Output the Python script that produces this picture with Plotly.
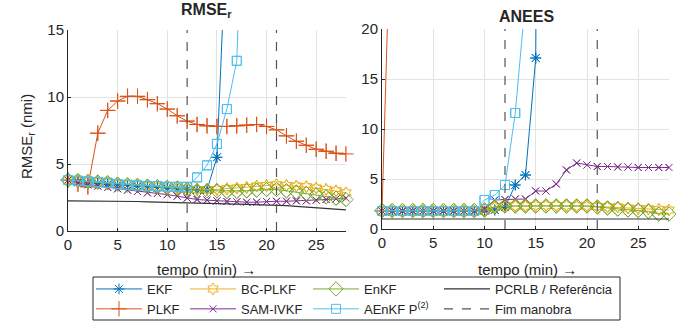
import plotly.graph_objects as go

W, H = 690, 325
t = list(range(29))

# RMSE_r (nmi)
ekf_r = [3.8, 3.7, 3.6, 3.55, 3.5, 3.45, 3.4, 3.35, 3.3, 3.25, 3.2, 3.15, 3.1, 3.05, 3.05, 5.5, 23]
plkf_r = [3.8, 3.5, 3.3, 7.3, 9.0, 9.7, 10.05, 10.05, 9.8, 9.5, 9.1, 8.6, 8.2, 7.95, 7.85, 7.8, 7.8,
          7.85, 7.9, 7.95, 7.8, 7.55, 7.1, 6.7, 6.4, 6.1, 5.95, 5.8, 5.75]
bcplkf_r = [3.8, 3.75, 3.7, 3.65, 3.6, 3.5, 3.45, 3.4, 3.35, 3.3, 3.25, 3.2, 3.15, 3.1, 3.1, 3.1, 3.15,
            3.2, 3.25, 3.35, 3.4, 3.45, 3.4, 3.35, 3.3, 3.2, 3.1, 3.0, 2.85]
samivkf_r = [3.8, 3.6, 3.45, 3.35, 3.25, 3.15, 3.05, 2.95, 2.85, 2.8, 2.72, 2.6, 2.45, 2.35, 2.3, 2.25,
             2.2, 2.18, 2.15, 2.15, 2.2, 2.22, 2.22, 2.25, 2.25, 2.3, 2.35, 2.4, 2.45]
enkf_r = [3.8, 3.75, 3.7, 3.65, 3.6, 3.5, 3.45, 3.4, 3.35, 3.3, 3.25, 3.2, 3.1, 3.0, 3.0, 3.0, 2.95,
          2.95, 3.0, 3.05, 3.1, 3.1, 3.0, 2.9, 2.8, 2.7, 2.55, 2.45, 2.35]
aenkf_r = [3.8, 3.75, 3.7, 3.65, 3.6, 3.5, 3.45, 3.4, 3.35, 3.35, 3.3, 3.3, 3.3, 4.0, 4.9, 6.5, 9.1, 12.7, 34]
pcrlb_r = [2.25, 2.25, 2.24, 2.24, 2.23, 2.22, 2.21, 2.2, 2.18, 2.16, 2.14, 2.12, 2.1, 2.08, 2.06, 2.04,
           2.02, 2.0, 1.98, 1.97, 1.96, 1.95, 1.9, 1.84, 1.78, 1.72, 1.67, 1.62, 1.58]

# ANEES
ekf_a = [1.8] * 11 + [1.9, 2.2, 4.4, 5.4, 17.1, 200]
plkf_a = [1.8, 37]
bcplkf_a = [1.8] * 11 + [2.2, 2.3, 2.3, 2.3, 2.35, 2.35, 2.35, 2.35, 2.3, 2.3, 2.25, 2.2, 2.2, 2.1,
                         2.05, 2.0, 1.95, 1.9]
samivkf_a = [1.8] * 10 + [2.0, 2.9, 2.95, 3.0, 3.0, 3.8, 3.8, 4.5, 5.9, 6.6, 6.4, 6.25, 6.25, 6.2,
                          6.2, 6.15, 6.15, 6.15, 6.15]
enkf_a = [1.85] * 10 + [1.9, 2.2, 2.3, 2.3, 2.3, 2.3, 2.3, 2.3, 2.3, 2.3, 2.3, 2.2, 2.1, 2.0, 1.9,
                        1.85, 1.75, 1.5, 1.5]
aenkf_a = [1.8] * 10 + [2.9, 3.4, 4.4, 11.6, 23]
pcrlb_a = [1.0] * 29

fim_manobra = [12, 21]
ylim_r = [0, 15]
ylim_a = [0, 20]
xlim = [0, 28]

series = [
    # name, rmse, anees, color, symbol, size, legend
    ("EKF", ekf_r, ekf_a, "#0072BD", "asterisk-open", 9, "legend"),
    ("PLKF", plkf_r, plkf_a, "#D95319", "cross-thin-open", 11, "legend"),
    ("BC-PLKF", bcplkf_r, bcplkf_a, "#EDB120", "hexagram-open", 9, "legend2"),
    ("SAM-IVKF", samivkf_r, samivkf_a, "#7E2F8E", "x-thin-open", 7, "legend2"),
    ("EnKF", enkf_r, enkf_a, "#77AC30", "diamond-open", 11, "legend3"),
    ("AEnKF P<sup>(2)</sup>", aenkf_r, aenkf_a, "#4DBEEE", "square-open", 9, "legend3"),
]

fig = go.Figure()

for name, yr, ya, col, sym, sz, lg in series:
    for k, (yy, ax, ylim) in enumerate([(yr, "", ylim_r), (ya, "2", ylim_a)]):
        xx = t[:len(yy)]
        mk = dict(symbol=sym, size=sz, color=col, line=dict(color=col, width=1))
        fig.add_trace(go.Scatter(
            x=xx, y=yy, mode="lines+markers", name=name,
            line=dict(color=col, width=1), marker=mk,
            xaxis="x" + ax, yaxis="y" + ax, legend=lg, showlegend=(k == 0)))
        # unclipped markers for the points inside the axis range
        xin = [x for x, y in zip(xx, yy) if ylim[0] <= y <= ylim[1]]
        yin = [y for y in yy if ylim[0] <= y <= ylim[1]]
        fig.add_trace(go.Scatter(
            x=xin, y=yin, mode="markers", marker=mk, cliponaxis=False,
            xaxis="x" + ax, yaxis="y" + ax, showlegend=False, hoverinfo="skip"))

# PCRLB
fig.add_trace(go.Scatter(x=t, y=pcrlb_r, mode="lines", name="PCRLB / Referência",
                         line=dict(color="#333333", width=1.2), legend="legend4"))
fig.add_trace(go.Scatter(x=t, y=pcrlb_a, mode="lines", showlegend=False,
                         line=dict(color="#333333", width=1.2), xaxis="x2", yaxis="y2"))

# Fim manobra
for k, (ax, ylim) in enumerate([("", ylim_r), ("2", ylim_a)]):
    vx, vy = [], []
    for f in fim_manobra:
        vx += [f, f, None]
        vy += [ylim[0], ylim[1], None]
    fig.add_trace(go.Scatter(x=vx, y=vy, mode="lines", name="Fim manobra",
                             line=dict(color="#555555", width=1.2, dash="dash"),
                             xaxis="x" + ax, yaxis="y" + ax, legend="legend4",
                             showlegend=(k == 0)))

def px(x):
    return x / W

def py(y):
    return 1 - y / H

font = "Arial, Liberation Sans, sans-serif"
axcommon = dict(showgrid=True, gridcolor="#e3e3e3", gridwidth=1, zeroline=False,
                showline=True, linecolor="#262626", linewidth=1,
                ticks="inside", ticklen=3, tickcolor="#262626",
                tickfont=dict(size=15, color="#262626", family=font))

fig.update_layout(
    width=W, height=H, margin=dict(l=0, r=0, t=0, b=0, autoexpand=False),
    paper_bgcolor="white", plot_bgcolor="white",
    font=dict(family=font, color="#262626"),
    xaxis=dict(domain=[px(68), px(346)], range=xlim, dtick=5, anchor="y", **axcommon),
    yaxis=dict(domain=[py(231), py(30)], range=ylim_r, dtick=5, anchor="x", **axcommon),
    xaxis2=dict(domain=[px(382), px(669)], range=xlim, dtick=5, anchor="y2", **axcommon),
    yaxis2=dict(domain=[py(229), py(29)], range=ylim_a, dtick=5, anchor="x2", **axcommon),
)

legcommon = dict(orientation="v", xanchor="left", yanchor="top", bgcolor="rgba(0,0,0,0)",
                 borderwidth=0, font=dict(size=13, color="#262626", family=font),
                 tracegroupgap=0, itemwidth=46)
fig.update_layout(
    legend=dict(x=px(91), y=py(274), **legcommon),
    legend2=dict(x=px(185), y=py(274), **legcommon),
    legend3=dict(x=px(308), y=py(274), **legcommon),
    legend4=dict(x=px(439), y=py(274), **legcommon),
)

fig.add_shape(type="rect", xref="paper", yref="paper", x0=px(93), x1=px(620), y0=py(320), y1=py(277),
              line=dict(color="#262626", width=1), fillcolor="rgba(0,0,0,0)")

ann = [
    dict(text="<b>RMSE<sub>r</sub></b>", x=px(206), y=py(10), size=16),
    dict(text="<b>ANEES</b>", x=px(526), y=py(17), size=16),
    dict(text="tempo (min) →", x=px(206), y=py(269), size=15),
    dict(text="tempo (min) →", x=px(527), y=py(269), size=15),
]
for a in ann:
    fig.add_annotation(text=a["text"], x=a["x"], y=a["y"], xref="paper", yref="paper",
                       showarrow=False, xanchor="center", yanchor="middle",
                       font=dict(size=a["size"], color="#262626", family=font))
fig.add_annotation(text="RMSE<sub>r</sub> (nmi)", x=px(27), y=py(137), xref="paper", yref="paper",
                   showarrow=False, textangle=-90, xanchor="center", yanchor="middle",
                   font=dict(size=15, color="#262626", family=font))

fig.write_html("out.html")
